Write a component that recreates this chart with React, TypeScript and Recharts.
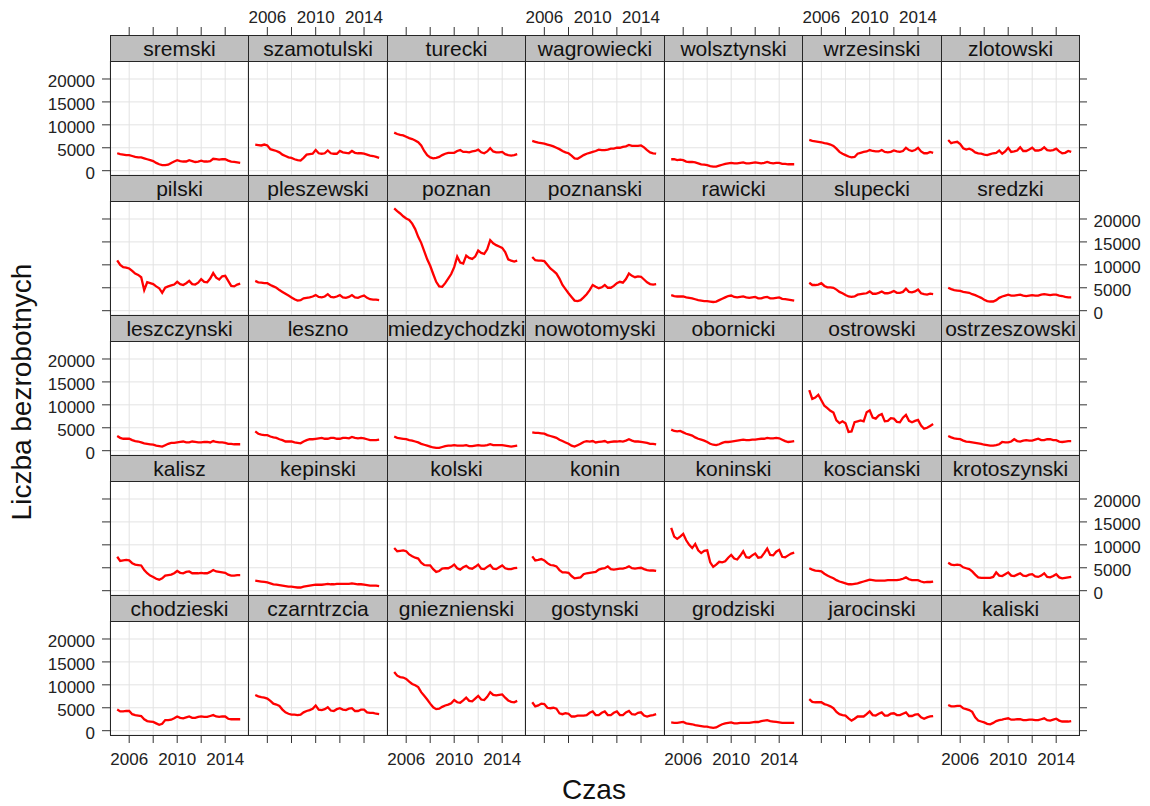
import React from 'react';
import { LineChart, Line, XAxis, YAxis, CartesianGrid } from 'recharts';

// kwartalne punkty czasu (2005 Q1 .. 2015 Q2)
const czas = [
  2005, 2005.25, 2005.5, 2005.75,
  2006, 2006.25, 2006.5, 2006.75,
  2007, 2007.25, 2007.5, 2007.75,
  2008, 2008.25, 2008.5, 2008.75,
  2009, 2009.25, 2009.5, 2009.75,
  2010, 2010.25, 2010.5, 2010.75,
  2011, 2011.25, 2011.5, 2011.75,
  2012, 2012.25, 2012.5, 2012.75,
  2013, 2013.25, 2013.5, 2013.75,
  2014, 2014.25, 2014.5, 2014.75,
  2015, 2015.25,
];

// kolejnosc paneli: od gornego wiersza, od lewej
const powiaty = [
  'sremski', 'szamotulski', 'turecki', 'wagrowiecki', 'wolsztynski', 'wrzesinski', 'zlotowski',
  'pilski', 'pleszewski', 'poznan', 'poznanski', 'rawicki', 'slupecki', 'sredzki',
  'leszczynski', 'leszno', 'miedzychodzki', 'nowotomyski', 'obornicki', 'ostrowski', 'ostrzeszowski',
  'kalisz', 'kepinski', 'kolski', 'konin', 'koninski', 'koscianski', 'krotoszynski',
  'chodzieski', 'czarntrzcia', 'gnieznienski', 'gostynski', 'grodziski', 'jarocinski', 'kaliski',
];

const sremski = [3800, 3600, 3500, 3400, 3400, 3200, 3000, 2900, 2900, 2700, 2500, 2300, 2100, 1700, 1400, 1200, 1200, 1300, 1700, 2000, 2300, 2100, 2000, 2000, 2300, 2100, 1900, 2000, 2200, 2000, 2000, 2100, 2600, 2500, 2400, 2500, 2500, 2200, 2000, 1900, 1800, 1700];
const szamotulski = [5700, 5600, 5500, 5700, 5500, 4700, 4500, 4300, 4000, 3500, 3200, 2900, 2800, 2500, 2300, 2200, 2800, 3500, 3600, 3700, 4500, 3800, 3700, 3800, 4400, 3800, 3700, 3700, 4300, 4000, 3900, 3800, 4300, 3900, 3800, 3800, 3700, 3500, 3300, 3200, 3000, 2800];
const turecki = [8300, 8000, 7800, 7700, 7400, 7100, 6900, 6600, 6200, 5500, 4300, 3400, 2900, 2700, 2800, 3000, 3400, 3700, 3900, 3900, 3900, 4300, 4500, 4100, 4100, 4000, 4200, 4300, 4600, 4000, 3800, 4200, 4900, 4200, 4000, 4000, 4100, 3600, 3400, 3300, 3400, 3600];
const wagrowiecki = [6500, 6300, 6100, 6000, 5900, 5700, 5500, 5300, 5000, 4700, 4300, 4000, 3800, 3300, 2700, 2600, 3000, 3400, 3700, 3900, 4100, 4300, 4600, 4500, 4500, 4600, 4800, 4800, 5000, 5000, 5200, 5300, 5600, 5400, 5400, 5400, 5500, 5100, 4500, 4000, 3800, 3700];
const wolsztynski = [2500, 2500, 2300, 2400, 2300, 2000, 1900, 1900, 1800, 1600, 1400, 1300, 1200, 1000, 900, 900, 1100, 1300, 1500, 1600, 1700, 1600, 1600, 1700, 1800, 1600, 1600, 1700, 1800, 1700, 1600, 1700, 1900, 1700, 1600, 1700, 1700, 1500, 1500, 1400, 1400, 1400];
const wrzesinski = [6700, 6500, 6400, 6300, 6200, 6000, 5900, 5700, 5400, 4800, 4100, 3700, 3400, 3100, 2900, 3000, 3700, 3900, 4100, 4200, 4500, 4300, 4200, 4200, 4500, 4100, 4000, 4100, 4400, 4200, 4100, 4300, 5000, 4500, 4300, 4500, 5000, 4200, 3800, 3800, 4100, 3900];
const zlotowski = [6700, 6000, 6200, 6300, 5800, 4900, 4600, 4800, 4500, 4000, 3800, 3700, 3500, 3400, 3600, 3800, 3900, 4400, 3700, 4200, 5000, 4100, 4200, 4400, 5100, 4300, 4300, 4600, 5000, 4400, 4400, 4600, 5100, 4500, 4400, 4500, 4800, 4200, 3800, 3900, 4300, 4100];

const pilski = [11000, 10000, 9500, 9400, 9200, 8700, 8100, 7800, 7300, 4500, 6200, 6000, 5800, 5300, 4900, 3900, 5000, 5300, 5500, 5700, 6300, 5800, 5600, 6000, 6500, 5800, 5700, 6100, 6900, 6300, 6200, 7000, 8200, 7200, 6800, 7500, 7600, 6500, 5400, 5300, 5700, 5900];
const pleszewski = [6500, 6200, 6100, 6000, 6000, 5600, 5300, 5000, 4500, 4100, 3700, 3300, 2900, 2500, 2200, 2300, 2700, 2800, 2900, 3100, 3400, 3000, 2900, 3100, 3600, 3000, 2900, 3100, 3400, 2900, 2800, 3000, 3400, 2900, 2800, 3100, 3300, 2800, 2500, 2400, 2400, 2300];
const poznan = [22300, 21700, 21200, 20600, 20100, 19800, 19000, 17800, 16100, 14800, 13000, 11200, 9800, 8000, 6300, 5300, 5200, 6000, 7000, 8000, 9500, 11800, 10500, 10300, 12000, 11500, 11300, 11800, 13100, 12600, 12400, 13400, 15400, 14700, 14300, 14000, 13700, 12800, 11200, 10900, 10700, 10900];
const poznanski = [11700, 11000, 10900, 10900, 10800, 10000, 9200, 8700, 8100, 7000, 5600, 4700, 3800, 3000, 2200, 2100, 2300, 2900, 3600, 4500, 5600, 5200, 4900, 5100, 5600, 5000, 5000, 5400, 6000, 6300, 6100, 6900, 8100, 7600, 7300, 7500, 7400, 6800, 6200, 5800, 5700, 5800];
const rawicki = [3400, 3200, 3100, 3100, 3100, 2900, 2800, 2700, 2500, 2300, 2200, 2100, 2100, 2000, 1900, 2000, 2300, 2600, 2900, 3200, 3300, 3000, 2900, 3000, 3100, 2900, 2800, 2900, 3000, 2700, 2700, 2900, 3000, 2700, 2700, 2800, 2900, 2600, 2500, 2400, 2300, 2200];
const slupecki = [6100, 5600, 5600, 5700, 6000, 5400, 5100, 5100, 5000, 4600, 4100, 3800, 3400, 3100, 3000, 3100, 3500, 3600, 3700, 3800, 4200, 3700, 3700, 3900, 4200, 3800, 3800, 4000, 4300, 3900, 3900, 4100, 4800, 4100, 4000, 4200, 4600, 3800, 3600, 3500, 3700, 3600];
const sredzki = [5000, 4700, 4500, 4400, 4300, 4100, 4000, 3900, 3600, 3400, 3100, 2800, 2400, 2100, 2000, 2000, 2300, 2800, 3100, 3300, 3500, 3300, 3300, 3400, 3500, 3300, 3200, 3300, 3400, 3300, 3300, 3500, 3600, 3500, 3400, 3500, 3500, 3300, 3200, 3000, 2900, 2900];

const leszczynski = [3200, 2800, 2600, 2600, 2600, 2300, 2100, 2000, 1800, 1600, 1500, 1400, 1300, 1100, 1000, 900, 1200, 1500, 1700, 1700, 1800, 1900, 2000, 1800, 1800, 2000, 1900, 1800, 1800, 1900, 1900, 1800, 2100, 1900, 1800, 1800, 1700, 1500, 1500, 1400, 1400, 1400];
const leszno = [4200, 3700, 3500, 3400, 3400, 3100, 2900, 2800, 2500, 2300, 2000, 2000, 2000, 1800, 1700, 1600, 2000, 2300, 2500, 2500, 2600, 2700, 2800, 2600, 2600, 2800, 2800, 2600, 2600, 2800, 2800, 2700, 3000, 2800, 2700, 2800, 2700, 2500, 2300, 2300, 2300, 2400];
const miedzychodzki = [3100, 2800, 2700, 2600, 2500, 2300, 2200, 2000, 1800, 1500, 1300, 1100, 900, 700, 600, 600, 800, 1000, 1100, 1100, 1200, 1100, 1100, 1100, 1200, 1000, 1000, 1100, 1200, 1100, 1100, 1200, 1400, 1200, 1200, 1200, 1200, 1100, 1000, 900, 1000, 1100];
const nowotomyski = [4000, 3900, 3900, 3800, 3700, 3400, 3200, 3000, 2800, 2400, 2100, 1800, 1500, 1100, 900, 1200, 1500, 1900, 2100, 2000, 2100, 1800, 1900, 2000, 2100, 1800, 1900, 2000, 2000, 2100, 2000, 2200, 2500, 2200, 2000, 2000, 1900, 1800, 1700, 1500, 1500, 1400];
const obornicki = [4600, 4300, 4200, 4300, 4000, 3700, 3500, 3300, 2900, 2600, 2400, 2200, 1900, 1500, 1300, 1200, 1400, 1700, 1900, 1900, 2000, 2100, 2200, 2300, 2400, 2300, 2300, 2400, 2400, 2500, 2600, 2600, 2800, 2700, 2700, 2800, 2700, 2400, 2100, 1900, 2000, 2100];
const ostrowski = [13200, 11300, 11600, 12200, 11000, 9800, 9300, 8700, 8300, 6600, 6000, 6400, 6000, 4100, 4200, 6200, 6400, 6600, 6400, 8400, 8800, 7200, 7000, 7700, 8000, 6400, 6500, 7100, 7000, 6300, 6200, 7200, 7800, 6500, 6200, 6500, 6700, 5500, 4800, 5000, 5400, 5800];
const ostrzeszowski = [3200, 2900, 2700, 2600, 2500, 2200, 2000, 1900, 1800, 1700, 1600, 1500, 1300, 1200, 1100, 1100, 1200, 1400, 1900, 1800, 1800, 2000, 2500, 2100, 2000, 2200, 2300, 2200, 2200, 2400, 2600, 2300, 2300, 2500, 2500, 2300, 2300, 2000, 1900, 2000, 2100, 2100];

const kalisz = [7400, 6500, 6600, 6700, 6600, 6000, 5700, 5600, 5500, 4500, 3800, 3300, 3000, 2600, 2400, 2700, 3300, 3400, 3500, 3800, 4300, 3900, 3800, 4100, 4200, 3800, 3800, 3800, 3900, 3800, 3800, 4100, 4500, 4200, 4100, 4000, 3900, 3500, 3300, 3300, 3400, 3400];
const kepinski = [2200, 2100, 2000, 1900, 1800, 1600, 1400, 1300, 1200, 1100, 1000, 900, 900, 800, 700, 700, 900, 1000, 1100, 1200, 1300, 1300, 1300, 1400, 1500, 1400, 1400, 1500, 1500, 1500, 1500, 1500, 1600, 1500, 1400, 1400, 1300, 1200, 1100, 1100, 1100, 1000];
const kolski = [9300, 8600, 8700, 8800, 8600, 7900, 7500, 7200, 7000, 6100, 5600, 5500, 5500, 4700, 4100, 4300, 4800, 4900, 4900, 5200, 5700, 4900, 4600, 5100, 5400, 4900, 4800, 5200, 5700, 4800, 4700, 5200, 5600, 4800, 4700, 5100, 5500, 4900, 4700, 4700, 4900, 5000];
const konin = [7500, 6600, 6700, 6900, 6600, 6000, 5600, 5500, 5300, 4500, 4000, 4000, 3900, 3200, 2700, 2800, 2900, 3600, 3800, 3900, 4000, 4100, 4600, 4800, 4900, 5300, 4700, 4600, 4700, 4800, 4800, 5000, 5300, 4900, 4800, 4900, 5000, 4700, 4500, 4400, 4400, 4300];
const koninski = [13700, 11800, 11300, 11800, 12400, 11000, 10000, 9300, 10200, 8800, 8200, 8700, 8800, 6200, 5200, 5700, 6300, 6200, 6400, 7200, 7800, 7000, 6800, 7600, 8600, 7300, 7200, 7700, 8100, 7200, 7300, 8200, 9200, 7800, 7700, 8500, 8900, 7400, 7300, 7700, 8100, 8300];
const koscianski = [4900, 4600, 4400, 4300, 4200, 3700, 3300, 3000, 2700, 2300, 2000, 1800, 1600, 1400, 1400, 1500, 1600, 1800, 2000, 2200, 2400, 2300, 2200, 2200, 2200, 2200, 2300, 2300, 2300, 2300, 2400, 2600, 2900, 2500, 2300, 2300, 2300, 2000, 1800, 1900, 1900, 2000];
const krotoszynski = [6100, 5700, 5600, 5700, 5600, 5100, 4900, 4700, 4200, 3500, 2900, 2800, 2800, 2800, 2800, 3000, 4000, 3300, 3200, 3600, 4000, 3300, 3200, 3500, 3800, 3300, 3200, 3500, 3600, 3100, 3000, 3300, 3800, 3000, 2900, 3200, 3600, 2900, 2700, 2800, 2900, 3000];

const chodzieski = [4600, 4200, 4200, 4300, 4300, 3600, 3400, 3300, 3200, 2500, 2100, 2000, 1900, 1600, 1300, 1500, 2300, 2300, 2400, 2700, 3100, 2800, 2700, 2900, 3100, 2800, 2800, 3000, 3100, 3000, 3000, 3200, 3400, 3100, 3000, 3100, 3100, 2600, 2500, 2500, 2500, 2500];
const czarntrzcia = [7800, 7500, 7300, 7200, 7000, 6500, 5900, 5700, 5400, 4600, 4000, 3700, 3500, 3500, 3400, 3500, 4000, 4300, 4500, 4800, 5500, 4600, 4500, 4700, 5100, 4400, 4300, 4700, 4900, 4600, 4500, 4800, 4900, 4300, 4300, 4600, 4600, 4000, 3900, 3900, 3700, 3600];
const gnieznienski = [12800, 12000, 11700, 11600, 11300, 10700, 10200, 9900, 9500, 8400, 7600, 6800, 5900, 5100, 4700, 4800, 5200, 5500, 5700, 6000, 6700, 6200, 6100, 6600, 7200, 6500, 6400, 7000, 7600, 6800, 6700, 7400, 8400, 7800, 7700, 7800, 7900, 7200, 6600, 6300, 6200, 6500];
const gostynski = [6200, 5300, 5500, 5900, 5800, 5000, 4900, 5000, 4800, 3800, 3600, 3800, 3700, 3100, 3100, 3300, 3300, 3300, 3400, 3900, 4200, 3400, 3400, 3900, 4200, 3400, 3400, 3900, 4200, 3400, 3400, 4000, 4300, 3600, 3500, 3900, 4000, 3300, 3100, 3300, 3400, 3600];
const grodziski = [1800, 1700, 1700, 1800, 1900, 1600, 1500, 1400, 1200, 1100, 1000, 900, 900, 700, 600, 700, 1100, 1400, 1600, 1700, 1800, 1600, 1600, 1700, 1700, 1700, 1700, 1800, 1900, 1900, 2100, 2200, 2300, 2100, 2000, 1900, 1800, 1700, 1700, 1700, 1700, 1700];
const jarocinski = [6900, 6300, 6200, 6200, 6200, 5800, 5600, 5300, 4900, 4100, 3600, 3400, 3300, 2700, 2200, 2600, 3100, 3100, 3100, 3600, 4200, 3400, 3300, 3700, 4000, 3300, 3300, 3700, 3800, 3400, 3400, 3700, 4000, 3200, 3200, 3500, 3600, 2900, 2600, 2900, 3100, 3200];
const kaliski = [5600, 5300, 5300, 5400, 5400, 4900, 4700, 4500, 4100, 2900, 2200, 2000, 1800, 1500, 1400, 1700, 2100, 2300, 2400, 2600, 2700, 2400, 2400, 2500, 2500, 2300, 2300, 2400, 2400, 2300, 2300, 2500, 2700, 2300, 2200, 2400, 2600, 2200, 2000, 2000, 2000, 2100];

const wartosci: Record<string, number[]> = {
  sremski, szamotulski, turecki, wagrowiecki, wolsztynski, wrzesinski, zlotowski,
  pilski, pleszewski, poznan, poznanski, rawicki, slupecki, sredzki,
  leszczynski, leszno, miedzychodzki, nowotomyski, obornicki, ostrowski, ostrzeszowski,
  kalisz, kepinski, kolski, konin, koninski, koscianski, krotoszynski,
  chodzieski, czarntrzcia, gnieznienski, gostynski, grodziski, jarocinski, kaliski,
};

const xTicks = [2006, 2008, 2010, 2012, 2014];
const xLabels = [2006, 2010, 2014];
const yTicks = [0, 5000, 10000, 15000, 20000];

const NCOL = 7;
const NROW = 5;
const LEFT = 110;
const COLW = 138.43;
const TOP = 35;
const STRIP = 26;
const PH = 114;
const STEP = 140;
const PAD = 72;
const AXIS = '#333';
const FONT = '"Liberation Sans", Arial, sans-serif';
const TICKFONT = 17;

const colX = (c: number) => Math.round(LEFT + COLW * c);

function XTick(props: any) {
  const { x, y, payload, side, on, label } = props;
  if (!on) return <g />;
  const showText = label && xLabels.includes(payload.value);
  if (side === 'top') {
    const base = y - STRIP;
    return (
      <g>
        <line x1={x} x2={x} y1={base} y2={base - 8} stroke={AXIS} />
        {showText && (
          <text x={x} y={base - 12.5} textAnchor="middle" fontSize={TICKFONT} fontFamily={FONT} fill="#222">
            {payload.value}
          </text>
        )}
      </g>
    );
  }
  return (
    <g>
      <line x1={x} x2={x} y1={y} y2={y + 8} stroke={AXIS} />
      {showText && (
        <text x={x} y={y + 29.5} textAnchor="middle" fontSize={TICKFONT} fontFamily={FONT} fill="#222">
          {payload.value}
        </text>
      )}
    </g>
  );
}

function YTick(props: any) {
  const { x, y, payload, side, on, label } = props;
  if (!on) return <g />;
  const left = side === 'left';
  return (
    <g>
      <line x1={x} x2={left ? x - 8 : x + 8} y1={y} y2={y} stroke={AXIS} />
      {label && (
        <text
          x={left ? x - 15 : x + 14.5}
          y={y + 8}
          textAnchor={left ? 'end' : 'start'}
          fontSize={TICKFONT}
          fontFamily={FONT}
          fill="#222"
        >
          {payload.value}
        </text>
      )}
    </g>
  );
}

function Panel({ name, col, row }: { name: string; col: number; row: number }) {
  const x0 = colX(col);
  const w = colX(col + 1) - x0;
  const plotTop = TOP + row * STEP + STRIP;
  const data = czas.map((t, i) => ({ t, v: wartosci[name][i] }));

  const xSide = row === 0 ? 'top' : 'bottom';
  const ySide = col === NCOL - 1 ? 'right' : 'left';
  const xOn = row === 0 || row === NROW - 1;
  const yOn = col === 0 || col === NCOL - 1;
  const xLab = row === 0 ? col % 2 === 1 : col % 2 === 0;
  const yLab = col === 0 ? row % 2 === 0 : row % 2 === 1;

  const margin = {
    top: PAD - (xSide === 'top' ? 1 : 0),
    bottom: PAD - (xSide === 'bottom' ? 1 : 0),
    left: PAD - (ySide === 'left' ? 1 : 0),
    right: PAD - (ySide === 'right' ? 1 : 0),
  };

  return (
    <div style={{ position: 'absolute', left: x0 - PAD, top: plotTop - PAD }}>
      <LineChart width={w + 2 * PAD} height={PH + 2 * PAD} data={data} margin={margin}>
        <CartesianGrid xAxisId="x" yAxisId="y" stroke="#e3e3e3" strokeWidth={1} />
        <XAxis
          xAxisId="x"
          dataKey="t"
          type="number"
          domain={[2004.4, 2015.9]}
          allowDataOverflow
          ticks={xTicks}
          interval={0}
          orientation={xSide}
          height={1}
          tickSize={0}
          tickMargin={0}
          tickLine={false}
          axisLine={false}
          tick={(p: any) => <XTick {...p} side={xSide} on={xOn} label={xLab} />}
        />
        <YAxis
          yAxisId="y"
          type="number"
          domain={[-940, 23925]}
          allowDataOverflow
          ticks={yTicks}
          interval={0}
          orientation={ySide}
          width={1}
          tickSize={0}
          tickMargin={0}
          tickLine={false}
          axisLine={false}
          tick={(p: any) => <YTick {...p} side={ySide} on={yOn} label={yLab} />}
        />
        <Line
          xAxisId="x"
          yAxisId="y"
          type="linear"
          dataKey="v"
          stroke="#ff0000"
          strokeWidth={2.3}
          dot={false}
          isAnimationActive={false}
        />
      </LineChart>
    </div>
  );
}

export default function App() {
  const cells = powiaty.map((name, i) => ({ name, col: i % NCOL, row: Math.floor(i / NCOL) }));
  return (
    <div
      style={{
        position: 'absolute',
        left: 0,
        top: 0,
        width: 1150,
        height: 806,
        background: '#fff',
        fontFamily: FONT,
        overflow: 'hidden',
      }}
    >
      {cells.map((c) => (
        <Panel key={c.name} {...c} />
      ))}
      {cells.map((c) => {
        const x0 = colX(c.col);
        const w = colX(c.col + 1) - x0;
        const stripTop = TOP + c.row * STEP;
        return (
          <React.Fragment key={'f' + c.name}>
            <div
              style={{
                position: 'absolute',
                left: x0,
                top: stripTop + STRIP,
                width: w + 1,
                height: PH + 1,
                border: '1px solid #262626',
                boxSizing: 'border-box',
              }}
            />
            <div
              style={{
                position: 'absolute',
                left: x0,
                top: stripTop,
                width: w + 1,
                height: STRIP + 1,
                background: '#bfbfbf',
                border: '1px solid #262626',
                boxSizing: 'border-box',
                display: 'flex',
                alignItems: 'center',
                justifyContent: 'center',
                overflow: 'hidden',
                fontSize: 21,
                color: '#111',
                whiteSpace: 'nowrap',
              }}
            >
              <span>{c.name}</span>
            </div>
          </React.Fragment>
        );
      })}
      <div
        style={{
          position: 'absolute',
          left: 22,
          top: 392,
          transform: 'translate(-50%, -50%) rotate(-90deg)',
          fontSize: 28,
          whiteSpace: 'nowrap',
          color: '#111',
        }}
      >
        Liczba bezrobotnych
      </div>
      <div
        style={{
          position: 'absolute',
          left: 594,
          top: 790,
          transform: 'translate(-50%, -50%)',
          fontSize: 28,
          whiteSpace: 'nowrap',
          color: '#111',
        }}
      >
        Czas
      </div>
    </div>
  );
}
